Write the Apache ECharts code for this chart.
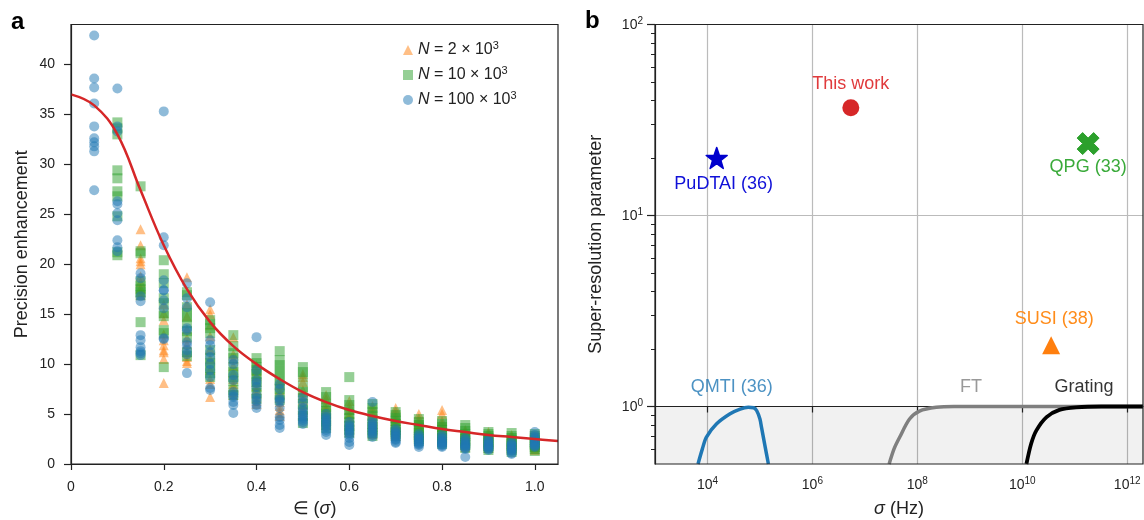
<!DOCTYPE html>
<html>
<head>
<meta charset="utf-8">
<script src="https://cdn.jsdelivr.net/npm/echarts@6/dist/echarts.min.js"></script>
<style>
html,body{margin:0;padding:0;background:#fff;}
#chart{width:1144px;height:520px;}
</style>
</head>
<body>
<div id="chart"></div>
<script>
// ---------- Panel a data ----------
const epsilon = [0.05,0.10,0.15,0.20,0.25,0.30,0.35,0.40,0.45,0.50,0.55,0.60,0.65,0.70,0.75,0.80,0.85,0.90,0.95,1.00];
const precN2k = [
  [],
  [],
  [23.5,21.9,20.6,20.3,20.0,18.8,18.2,17.6,17.2,16.9],
  [16.0,15.1,14.4,13.0,12.4,11.9,11.4,11.2,10.5,8.1],
  [18.7,16.0,14.8,13.5,12.6,12.0,11.2,10.7,10.3,10.1],
  [15.5,15.0,13.9,12.8,11.5,10.5,9.4,8.5,8.0,6.7],
  [12.7,11.0,10.5,9.8,9.1,8.5,8.0,7.7,7.2,6.9],
  [9.9,9.3,8.8,8.2,7.8,7.4,7.0,6.6,6.3,6.0],
  [8.3,7.9,7.4,7.0,6.6,6.2,5.8,5.4,5.1,4.8],
  [9.0,8.7,8.2,7.4,6.9,6.4,5.9,5.5,5.2,4.9],
  [6.9,6.5,6.0,5.6,5.3,5.0,4.7,4.5,4.2,3.9],
  [6.3,5.8,5.4,5.0,4.7,4.4,4.1,3.8,3.5,3.2],
  [5.8,5.4,5.0,4.6,4.3,4.0,3.8,3.5,3.3,3.0],
  [5.6,5.3,4.9,4.6,4.3,4.0,3.7,3.4,3.1,2.8],
  [5.0,4.6,4.3,4.0,3.7,3.4,3.1,2.9,2.7,2.5],
  [5.4,5.0,4.3,4.0,3.7,3.4,3.1,2.8,2.5,2.3],
  [3.4,3.2,3.0,2.8,2.6,2.4,2.2,2.0,1.9,1.7],
  [3.2,3.0,2.8,2.6,2.4,2.2,2.1,1.9,1.8,1.6],
  [2.9,2.7,2.5,2.3,2.2,2.0,1.9,1.7,1.6,1.5],
  [2.7,2.5,2.4,2.2,2.1,1.9,1.8,1.7,1.5,1.4]
];
const precN10k = [
  [],
  [34.2,33.6,33.0,29.4,28.6,27.3,26.8,24.8,21.2,20.9],
  [27.8,21.3,21.1,18.3,17.8,17.5,17.2,16.9,14.2,10.9],
  [20.4,19.0,18.1,16.6,16.1,15.1,14.8,13.4,13.1,9.7],
  [17.2,16.9,15.7,15.1,14.7,14.1,13.3,12.7,11.2,10.8],
  [14.4,14.0,13.6,13.1,11.4,10.6,10.1,9.6,9.1,8.7],
  [12.9,11.8,11.1,10.6,9.7,9.2,8.7,8.3,7.4,6.9],
  [10.6,10.1,9.7,9.4,9.0,8.7,8.2,7.7,7.1,6.5],
  [11.3,10.4,9.9,9.4,8.9,8.4,7.9,7.5,6.9,6.4],
  [9.7,9.2,8.7,7.7,7.2,6.6,6.0,5.4,4.8,4.1],
  [7.2,6.7,6.2,5.7,5.3,5.0,4.6,4.3,3.9,3.6],
  [8.7,6.4,5.9,5.4,5.0,4.6,4.2,3.8,3.4,3.1],
  [6.0,5.6,5.2,4.8,4.4,4.0,3.7,3.4,3.1,2.8],
  [5.2,4.9,4.6,4.3,4.0,3.7,3.4,3.2,3.0,2.8],
  [4.5,4.2,3.9,3.6,3.4,3.1,2.9,2.7,2.5,2.3],
  [4.3,4.0,3.7,3.4,3.1,2.9,2.6,2.4,2.2,2.0],
  [3.9,3.6,3.3,3.0,2.8,2.5,2.3,2.1,1.9,1.6],
  [3.2,3.0,2.8,2.6,2.4,2.2,2.0,1.8,1.6,1.4],
  [3.1,2.8,2.6,2.4,2.2,2.0,1.8,1.6,1.4,1.2],
  [3.0,2.8,2.6,2.4,2.2,2.0,1.9,1.7,1.5,1.3]
];
const precN100k = [
  [42.9,38.6,37.7,36.1,33.8,32.6,32.2,31.8,31.3,27.4],
  [37.6,33.8,33.3,26.3,26.0,25.1,24.4,22.4,21.7,21.3],
  [19.1,18.6,16.8,16.3,12.9,12.4,11.7,11.3,11.1,10.9],
  [35.3,22.7,21.9,18.4,17.4,17.4,16.4,15.6,12.6,12.5],
  [18.1,16.6,15.7,13.6,13.4,12.2,11.9,11.4,11.0,9.1],
  [16.2,12.4,11.9,11.2,10.7,10.0,9.4,8.7,7.6,7.4],
  [10.4,10.0,8.9,8.4,7.2,6.9,6.7,6.2,5.9,5.1],
  [12.7,9.4,8.4,8.1,7.7,6.9,6.6,6.3,5.9,5.6],
  [8.0,7.5,6.6,6.4,6.2,5.6,4.7,4.4,3.9,3.6],
  [6.7,6.2,5.6,5.3,5.0,4.8,4.6,4.4,4.2,4.0],
  [5.0,4.7,4.5,4.3,4.1,3.9,3.7,3.4,3.2,2.9],
  [4.2,3.9,3.7,3.5,3.3,3.1,2.9,2.6,2.2,1.9],
  [6.2,4.4,4.1,3.9,3.7,3.5,3.3,3.1,2.9,2.7],
  [3.5,3.3,3.1,3.0,2.8,2.7,2.5,2.4,2.2,2.1],
  [3.0,2.8,2.6,2.5,2.4,2.2,2.1,2.0,1.9,1.7],
  [2.9,2.7,2.5,2.3,2.2,2.1,2.0,1.9,1.8,1.7],
  [2.6,2.4,2.2,2.0,1.9,1.8,1.7,1.6,1.5,0.7],
  [2.5,2.3,2.2,2.0,1.9,1.8,1.7,1.6,1.5,1.4],
  [2.2,2.0,1.9,1.8,1.6,1.5,1.4,1.3,1.1,1.0],
  [3.2,2.9,2.7,2.5,2.3,2.2,2.0,1.9,1.8,1.7]
];
const fitEps  = [0,0.05,0.10,0.15,0.20,0.25,0.30,0.35,0.40,0.45,0.50,0.55,0.60,0.65,0.70,0.75,0.80,0.85,0.90,0.95,1.00,1.05];
const fitVals = [37.0,35.9,33.0,27.4,21.9,17.5,14.2,11.8,10.0,8.5,7.2,6.2,5.4,4.8,4.3,3.9,3.5,3.2,2.9,2.7,2.5,2.3];
const xTicksA = [0,0.2,0.4,0.6,0.8,1.0];
const yTicksA = [0,5,10,15,20,25,30,35,40];
const legendNames = ['N2k','N10k','N100k'];
const legendLabels = ['{i|N} = 2 × 10{s|3}','{i|N} = 10 × 10{s|3}','{i|N} = 100 × 10{s|3}'];

// ---------- Panel b data ----------
const qmtiSigma = [6.6e3,8.0e3,9.5e3,1.48e4,2.7e4,4.2e4,6.0e4,7.6e4,8.7e4,1.0e5,1.07e5,1.25e5,1.45e5];
const qmtiSR    = [0.50,0.60,0.69,0.81,0.916,0.97,0.99,0.985,0.95,0.86,0.78,0.62,0.50];
const ftSigma   = [2.9e7,3.6e7,4.6e7,7.1e7,1.1e8,2.3e8,5e8,2e12];
const ftSR      = [0.50,0.60,0.69,0.86,0.946,0.99,1.0,1.0];
const gratSigma = [1.2e10,1.48e10,1.86e10,2.9e10,5.1e10,1.07e11,3.2e11,2e12];
const gratSR    = [0.50,0.64,0.75,0.88,0.96,0.99,1.0,1.0];
const pointNames = ['This work','PuDTAI (36)','QPG (33)','SUSI (38)'];
const pointSigma = [5.4e6,1.5e4,1.8e11,3.55e10];
const pointSR    = [36.7,20.0,23.8,2.09];
const curveLabelNames = ['QMTI (36)','FT','Grating'];
const curveLabelSigma = [2.9e4,1.05e9,1.5e11];
const curveLabelSR    = [1.27,1.27,1.27];
const xTicksB = [1e4,1e6,1e8,1e10,1e12];
const yTicksB = [1,10,100];
const yMinorB = [0.6,0.7,0.8,0.9,2,3,4,5,6,7,8,9,20,30,40,50,60,70,80,90];

// ---------- build ----------
const FONT = 'Liberation Sans';
const TXT = '#222';
const L = Math.log10;
function cols(arr){ const out=[]; arr.forEach((vals,i)=>vals.forEach(v=>out.push([epsilon[i],v]))); return out; }
function logPairs(xs,ys){ return xs.map((x,i)=>[L(x),L(ys[i])]); }

const supRich = {
  b:{fontSize:14,color:TXT,fontFamily:FONT,lineHeight:16,verticalAlign:'bottom'},
  s:{fontSize:10,color:TXT,fontFamily:FONT,lineHeight:12,verticalAlign:'bottom',padding:[0,0,6,0]}
};

const pointStyles = [
  {symbol:'circle', size:17, color:'#d62728', pos:'top', dist:6, off:[0,0]},
  {symbol:'path://M50,2 L62,36 L98,37 L69,59 L80,94 L50,73 L20,94 L31,59 L2,37 L38,36 Z', size:21, color:'#0000cd', pos:'bottom', dist:6, off:[7,0]},
  {symbol:'path://M0,2.5 L2.5,0 L5,2.5 L7.5,0 L10,2.5 L7.5,5 L10,7.5 L7.5,10 L5,7.5 L2.5,10 L0,7.5 L2.5,5 Z', size:22, color:'#2ca02c', pos:'bottom', dist:3, off:[0,0]},
  {symbol:'triangle', size:18, color:'#ff7f0e', pos:'top', dist:8, off:[3,0]}
];
const labelColors = ['#e03a3c','#1010d8','#3aaa3a','#ff8c1a'];
const curveLabelColors = ['#1f77b4','#7f7f7f','#000000'];

const series = [];
const scColors = ['#ff7f0e','#2ca02c','#1f77b4'];
const scSymbols = ['triangle','rect','circle'];
const scSizes = [10,10,10];
[precN2k,precN10k,precN100k].forEach((arr,k)=>{
  series.push({type:'scatter', name:legendNames[k], xAxisIndex:0, yAxisIndex:0, data:cols(arr),
    symbol:scSymbols[k], symbolSize:scSizes[k], itemStyle:{color:scColors[k], opacity:0.5}, z:2+k});
});
series.push({type:'line', name:'fit', xAxisIndex:0, yAxisIndex:0, data:fitEps.map((x,i)=>[x,fitVals[i]]),
  smooth:0.4, showSymbol:false, symbol:'none', lineStyle:{color:'#d62728', width:2.5}, z:6, silent:true});

// panel b: shaded region + curves
series.push({type:'line', name:'QMTI', xAxisIndex:1, yAxisIndex:1, data:logPairs(qmtiSigma,qmtiSR), smooth:0.3, symbol:'none',
  lineStyle:{color:'#1f77b4', width:3.5}, z:4,
  markArea:{silent:true, itemStyle:{color:'rgba(0,0,0,0.055)'}, data:[[{xAxis:3, yAxis:L(0.5)},{xAxis:L(2e12), yAxis:0}]]}});
series.push({type:'line', name:'FT', xAxisIndex:1, yAxisIndex:1, data:logPairs(ftSigma,ftSR), smooth:0.3, symbol:'none',
  lineStyle:{color:'#7f7f7f', width:3.5}, z:4});
series.push({type:'line', name:'Grating', xAxisIndex:1, yAxisIndex:1, data:logPairs(gratSigma,gratSR), smooth:0.3, symbol:'none',
  lineStyle:{color:'#000000', width:3.8}, z:5});
pointNames.forEach((nm,i)=>{
  const st = pointStyles[i];
  series.push({type:'scatter', name:nm, xAxisIndex:1, yAxisIndex:1, data:[[L(pointSigma[i]),L(pointSR[i])]],
    symbol:st.symbol, symbolSize:st.size,
    itemStyle:{color:st.color, opacity:1, borderColor:st.color, borderWidth: i===1?1.5:(i===2?1:0), borderJoin:'round'}, z:6,
    label:{show:true, position:st.pos, distance:st.dist, offset:st.off, formatter:nm, color:labelColors[i], fontSize:18, fontFamily:FONT}});
});
series.push({type:'scatter', name:'curveLabels', xAxisIndex:1, yAxisIndex:1,
  data:curveLabelNames.map((nm,i)=>({name:nm, value:[L(curveLabelSigma[i]),L(curveLabelSR[i])],
    label:{color:curveLabelColors[i]}})),
  symbolSize:0, z:6,
  label:{show:true, position:'inside', formatter:p=>p.name, fontSize:18, fontFamily:FONT}});

const option = {
  animation:false,
  backgroundColor:'#fff',
  textStyle:{fontFamily:FONT},
  grid:[
    {left:71, top:24.5, right:586, bottom:56, outerBoundsMode:'none', containLabel:false},
    {left:655, top:24.5, right:1, bottom:56, outerBoundsMode:'none', containLabel:false}
  ],
  legend:{
    data:legendNames.map((n,i)=>({name:n, icon:scSymbols[i]})),
    orient:'vertical', left:398, top:35, itemWidth:10, itemHeight:10, itemGap:5, selectedMode:false,
    formatter:n=>legendLabels[legendNames.indexOf(n)],
    textStyle:{fontSize:16, color:TXT, fontFamily:FONT, lineHeight:20,
      rich:{i:{fontStyle:'italic', fontSize:16, color:TXT, fontFamily:FONT, lineHeight:20},
            s:{fontSize:11, color:TXT, fontFamily:FONT, verticalAlign:'top', lineHeight:12}}}
  },
  xAxis:[
    {type:'value', gridIndex:0, min:0, max:1.05,
     axisLine:{show:true, lineStyle:{color:'#222', width:1.2}},
     axisTick:{show:true, length:6, customValues:xTicksA, lineStyle:{color:'#222', width:1.2}},
     axisLabel:{customValues:xTicksA, formatter:v=>v===0?'0':v.toFixed(1), fontSize:14, color:TXT, margin:16, fontFamily:FONT},
     splitLine:{show:false},
     name:'∈ ({i|σ})', nameLocation:'middle', nameGap:36,
     nameTextStyle:{fontSize:18, color:TXT, fontFamily:FONT,
       rich:{i:{fontStyle:'italic', fontSize:18, color:TXT, fontFamily:FONT}}}},
    {type:'value', gridIndex:1, min:3, max:L(2e12),
     axisLine:{show:true, lineStyle:{color:'#222', width:1.2}},
     axisTick:{show:true, length:6, customValues:xTicksB.map(L), lineStyle:{color:'#222', width:1.2}},
     axisLabel:{customValues:xTicksB.map(L), formatter:v=>'{b|10}{s|'+Math.round(v)+'}', margin:12, rich:supRich},
     splitLine:{show:true, lineStyle:{color:'#bbbbbb', width:1.2}},
     name:'{i|σ} (Hz)', nameLocation:'middle', nameGap:36,
     nameTextStyle:{fontSize:18, color:TXT, fontFamily:FONT,
       rich:{i:{fontStyle:'italic', fontSize:18, color:TXT, fontFamily:FONT}}}}
  ],
  yAxis:[
    {type:'value', gridIndex:0, min:0, max:44,
     axisLine:{show:true, lineStyle:{color:'#222', width:1.2}},
     axisTick:{show:true, length:7, customValues:yTicksA, lineStyle:{color:'#222', width:1.2}},
     axisLabel:{customValues:yTicksA, fontSize:14, color:TXT, margin:16, fontFamily:FONT},
     splitLine:{show:false},
     name:'Precision enhancement', nameLocation:'middle', nameGap:40,
     nameTextStyle:{fontSize:18, color:TXT, fontFamily:FONT}},
    {type:'value', gridIndex:1, position:'left', min:L(0.5), max:2,
     axisLine:{show:true, lineStyle:{color:'#222', width:1.2}},
     axisTick:{show:true, length:8, customValues:yTicksB.map(L), lineStyle:{color:'#222', width:1.2}},
     axisLabel:{customValues:yTicksB.map(L), formatter:v=>'{b|10}{s|'+Math.round(v)+'}', margin:12, rich:supRich},
     splitLine:{show:true, lineStyle:{color:'#bbbbbb', width:1.2}},
     name:'Super-resolution parameter', nameLocation:'middle', nameGap:50,
     nameTextStyle:{fontSize:18, color:TXT, fontFamily:FONT}},
    {type:'value', gridIndex:1, position:'left', offset:0, min:L(0.5), max:2,
     axisLine:{show:false},
     axisTick:{show:true, length:4, customValues:yMinorB.map(L), lineStyle:{color:'#222', width:1}},
     axisLabel:{show:false},
     splitLine:{show:false}}
  ],
  graphic:[
    {type:'text', left:11, top:10, style:{text:'a', font:'bold 24px "Liberation Sans"', fill:'#000'}},
    {type:'text', left:585, top:9, style:{text:'b', font:'bold 24px "Liberation Sans"', fill:'#000'}},
    {type:'rect', z:100, silent:true, shape:{x:71, y:24.5, width:487, height:439.5}, style:{fill:'none', stroke:'#222', lineWidth:1.2}},
    {type:'rect', z:100, silent:true, shape:{x:655, y:24.5, width:488, height:439.5}, style:{fill:'none', stroke:'#222', lineWidth:1.2}}
  ],
  series:series
};
const chart = echarts.init(document.getElementById('chart'), null, {renderer:'canvas'});
chart.setOption(option);
</script>
</body>
</html>
